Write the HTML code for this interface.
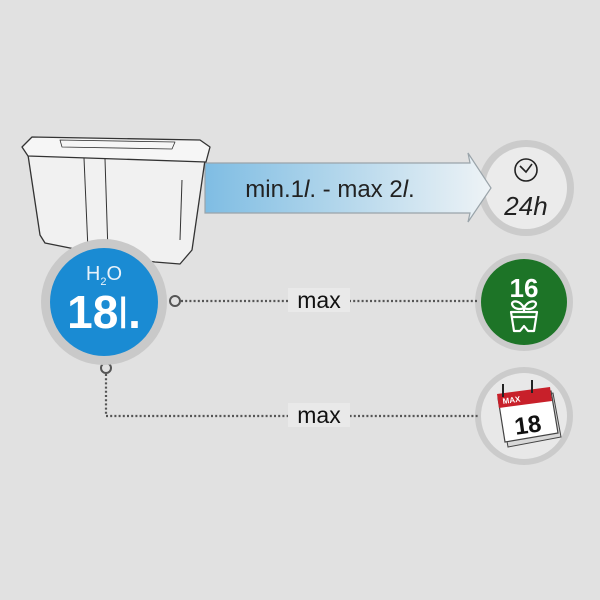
<!DOCTYPE html>
<html><head><meta charset="utf-8"><style>
html,body{margin:0;padding:0;background:#e1e1e1;}
svg{display:block;}
text{font-family:"Liberation Sans",Arial,sans-serif;}
</style></head><body>
<svg width="600" height="600" viewBox="0 0 600 600" xmlns="http://www.w3.org/2000/svg">
<defs>
<linearGradient id="ag" x1="0" x2="1" y1="0" y2="0">
<stop offset="0" stop-color="#7fbde3"/><stop offset="0.5" stop-color="#b6d8ec"/><stop offset="1" stop-color="#eef3f6"/>
</linearGradient>
</defs>
<rect width="600" height="600" fill="#e1e1e1"/>
<!-- clock badge -->
<circle cx="526" cy="188" r="48" fill="#cbcbcb"/>
<circle cx="526" cy="188" r="41" fill="#ebebeb"/>
<!-- arrow -->
<path d="M205 163 L470 163 L468 153 L491 188 L468 222 L470 213 L205 213 Z" fill="url(#ag)" stroke="#9aa4aa" stroke-width="1.2"/>
<text x="330" y="197" font-size="24" text-anchor="middle" fill="#222">min.1<tspan font-style="italic">l</tspan>. - max 2<tspan font-style="italic">l</tspan>.</text>
<!-- tub -->
<g fill="#f1f1f1" stroke="#333" stroke-width="1.3" stroke-linejoin="round">
<path d="M28 155 L205 160 L192 250 L180 264 L155 262 L105 255 L45 243 L40 235 Z"/>
<path d="M22 147 L32 137 L200 140 L210 147 L206 162 L28 156 Z" fill="#f6f6f6"/>
<path d="M60 140 L175 142 L172 149 L62 147 Z" fill="none" stroke-width="0.8"/>
<line x1="84" y1="158" x2="88" y2="250" stroke-width="1"/>
<line x1="105" y1="159" x2="108" y2="253" stroke-width="1"/>
<line x1="182" y1="180" x2="180" y2="240" stroke-width="1"/>
</g>
<circle cx="526" cy="170" r="11" fill="none" stroke="#222" stroke-width="1.6"/>
<path d="M520 166 L526 172 L532 164" fill="none" stroke="#222" stroke-width="1.6"/>
<text x="526" y="215" font-size="26" font-style="italic" text-anchor="middle" fill="#222">24h</text>
<!-- green badge -->
<circle cx="524" cy="302" r="49" fill="#cbcbcb"/>
<circle cx="524" cy="302" r="43" fill="#1d7427"/>
<text x="524" y="297" font-size="26" font-weight="bold" text-anchor="middle" fill="#fff">16</text>
<g fill="none" stroke="#fff" stroke-width="2.2" stroke-linejoin="round">
<path d="M524 312 L524 306"/>
<path d="M524 308 C520 300 512 300 512 304 C513 309 520 310 524 308 Z"/>
<path d="M524 308 C528 300 536 300 536 304 C535 309 528 310 524 308 Z"/>
<path d="M511 312 L537 312 L534 331 L528 331 L524 326 L520 331 L514 331 Z"/>
<line x1="512" y1="317" x2="536" y2="317"/>
</g>
<!-- calendar badge -->
<circle cx="524" cy="416" r="49" fill="#cbcbcb"/>
<circle cx="524" cy="416" r="43" fill="#e8e8e8"/>
<path d="M500 400 L553 393 L561 437 L508 447 Z" fill="#d8d8d8" stroke="#444" stroke-width="1"/>
<path d="M498 398 L551 391 L558 433 L505 442 Z" fill="#fff" stroke="#444" stroke-width="1.2"/>
<path d="M497 394 L550 387 L552 401 L499 408 Z" fill="#c8202a"/>
<text x="503" y="404" font-size="8" font-weight="bold" fill="#fff" transform="rotate(-8 503 404)">MAX</text>
<line x1="503" y1="384" x2="503" y2="397" stroke="#222" stroke-width="2"/>
<line x1="532" y1="380" x2="532" y2="393" stroke="#222" stroke-width="2"/>
<text x="529" y="433" font-size="24" font-weight="bold" text-anchor="middle" fill="#111" transform="rotate(-8 529 433)">18</text>
<!-- connectors -->
<g stroke="#555" stroke-width="2.2" stroke-dasharray="2 2.2" fill="none">
<line x1="181" y1="301" x2="478" y2="301"/>
<path d="M106 374 L106 416 L478 416"/>
</g>
<circle cx="175" cy="301" r="5" fill="none" stroke="#555" stroke-width="2"/>
<circle cx="106" cy="368" r="5" fill="none" stroke="#555" stroke-width="2"/>
<rect x="288" y="288" width="62" height="24" fill="#e9e9e9"/>
<text x="319" y="308" font-size="23" text-anchor="middle" fill="#111">max</text>
<rect x="288" y="403" width="62" height="24" fill="#e9e9e9"/>
<text x="319" y="423" font-size="23" text-anchor="middle" fill="#111">max</text>
<!-- H2O badge -->
<circle cx="104" cy="302" r="63" fill="#c9c9c9"/>
<circle cx="104" cy="302" r="54" fill="#1a8bd3"/>
<text x="104" y="280" font-size="20" text-anchor="middle" fill="#e8f2fa">H<tspan font-size="11" dy="5">2</tspan><tspan dy="-5">O</tspan></text>
<text x="104" y="328" font-size="46" font-weight="bold" text-anchor="middle" fill="#fff">18<tspan font-weight="normal" font-size="44">l</tspan><tspan>.</tspan></text>
</svg>
</body></html>
